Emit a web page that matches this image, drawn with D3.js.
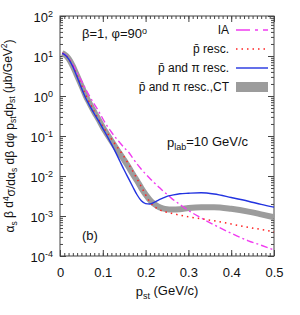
<!DOCTYPE html>
<html>
<head>
<meta charset="utf-8">
<script src="https://cdn.jsdelivr.net/npm/d3@7"></script>
<style>
body { margin: 0; background: #fff; }
text { font-family: "Liberation Sans", Arial, Helvetica, sans-serif; fill: #111; }
.axis path { display: none; }
.axis line { stroke: #444; }
</style>
</head>
<body>
<svg id="chart" width="300" height="315"></svg>
<script>
// p_st grid (GeV/c)
var pst = [0.005, 0.01, 0.02, 0.03, 0.04, 0.05, 0.06, 0.07, 0.08, 0.09, 0.10, 0.11, 0.12, 0.13, 0.14,
    0.15, 0.16, 0.17, 0.18, 0.19, 0.20, 0.21, 0.22, 0.23, 0.24, 0.25, 0.26, 0.28, 0.30, 0.33, 0.36,
    0.40, 0.44, 0.47, 0.50];

// IA
var ia = [11.7, 11.2, 8.9, 6.0, 3.8, 2.4, 1.48, 0.95, 0.63, 0.42, 0.27, 0.18, 0.126, 0.091, 0.068,
    0.051, 0.040, 0.028, 0.020, 0.0148, 0.0112, 0.0087, 0.0068, 0.0054, 0.0043, 0.0035, 0.0028, 0.00195,
    0.00138, 0.00089, 0.0006, 0.00037, 0.00024, 0.000186, 0.000141];

// pbar resc.
var pbarResc = [11.7, 11.1, 8.7, 5.6, 3.3, 1.86, 1.05, 0.65, 0.41, 0.26, 0.174, 0.120, 0.085, 0.060, 0.043,
    0.030, 0.020, 0.0132, 0.0085, 0.0054, 0.0034, 0.00224, 0.00174, 0.00148, 0.00132, 0.00124, 0.00117, 0.00105,
    0.00095, 0.00085, 0.00076, 0.00063, 0.00052, 0.00046, 0.0004];

// pbar and pi resc.
var pbarPiResc = [11.7, 11.0, 8.5, 5.4, 3.0, 1.58, 0.89, 0.56, 0.36, 0.24, 0.155, 0.100, 0.063, 0.039, 0.0234,
    0.0141, 0.0087, 0.0054, 0.0034, 0.0024, 0.00204, 0.0020, 0.00219, 0.0025, 0.00279, 0.0031, 0.00327, 0.0036,
    0.0037, 0.0038, 0.00355, 0.0029, 0.00234, 0.00195, 0.00166];

// pbar and pi resc., CT
var pbarPiCT = [11.7, 11.1, 8.7, 5.6, 3.2, 1.82, 1.02, 0.63, 0.40, 0.26, 0.166, 0.112, 0.076, 0.052, 0.036,
    0.025, 0.017, 0.0112, 0.0076, 0.0050, 0.00347, 0.0025, 0.0020, 0.0017, 0.00155, 0.00148, 0.00146, 0.00148,
    0.00158, 0.00166, 0.00166, 0.00151, 0.00129, 0.0011, 0.00093];

var xTicks = [0, 0.1, 0.2, 0.3, 0.4, 0.5];
var yExps = [-4, -3, -2, -1, 0, 1, 2];

var svg = d3.select("#chart");
var margin = {top: 16, right: 26, bottom: 59, left: 60};
var width = 300 - margin.left - margin.right;
var height = 315 - margin.top - margin.bottom;

var g = svg.append("g").attr("transform", "translate(" + margin.left + "," + margin.top + ")");

var x = d3.scaleLinear().domain([0, 0.5]).range([0, width]);
var y = d3.scaleLog().domain([1e-4, 1e2]).range([height, 0]);

// minor ticks
var xMinor = d3.range(0, 0.5001, 0.01);
var yMinor = [];
yExps.slice(0, -1).forEach(function(e) {
    for (var k = 2; k <= 9; k++) yMinor.push(k * Math.pow(10, e));
});

g.append("g").attr("class", "axis").attr("transform", "translate(0," + height + ")")
    .call(d3.axisBottom(x).tickValues(xMinor).tickSize(-3).tickFormat(""));
g.append("g").attr("class", "axis")
    .call(d3.axisTop(x).tickValues(xMinor).tickSize(-3).tickFormat(""));
g.append("g").attr("class", "axis")
    .call(d3.axisLeft(y).tickValues(yMinor).tickSize(-3).tickFormat(""));
g.append("g").attr("class", "axis").attr("transform", "translate(" + width + ",0)")
    .call(d3.axisRight(y).tickValues(yMinor).tickSize(-3).tickFormat(""));

var xAxis = g.append("g").attr("class", "axis").attr("transform", "translate(0," + height + ")")
    .call(d3.axisBottom(x).tickValues(xTicks).tickSize(-6).tickPadding(12).tickFormat(d3.format("")));
xAxis.selectAll("text").style("font-size", "13px").attr("fill", "#111");
g.append("g").attr("class", "axis")
    .call(d3.axisTop(x).tickValues(xTicks).tickSize(-6).tickFormat(""));

var yVals = yExps.map(function(e) { return Math.pow(10, e); });
var yAxis = g.append("g").attr("class", "axis")
    .call(d3.axisLeft(y).tickValues(yVals).tickSize(-6).tickFormat(""));
g.append("g").attr("class", "axis").attr("transform", "translate(" + width + ",0)")
    .call(d3.axisRight(y).tickValues(yVals).tickSize(-6).tickFormat(""));

yAxis.selectAll(".tick").each(function(d) {
    var e = Math.round(Math.log10(d));
    var t = d3.select(this).append("text")
        .attr("x", -7).attr("dy", "0.45em")
        .attr("text-anchor", "end")
        .style("font-size", "13px");
    t.append("tspan").text("10");
    t.append("tspan").attr("dy", "-0.55em").style("font-size", "9px")
        .text(e < 0 ? "-" + Math.abs(e) : e);
});

// frame
g.append("rect").attr("width", width).attr("height", height)
    .attr("fill", "none").attr("stroke", "#444").attr("stroke-width", 1);

var line = function(vals) {
    return d3.line()
        .x(function(d, i) { return x(pst[i]); })
        .y(function(d) { return y(d); })
        .curve(d3.curveMonotoneX)(vals);
};

g.append("path").attr("d", line(pbarPiCT))
    .attr("fill", "none").attr("stroke", "#9c9c9c").attr("stroke-width", 6);
g.append("path").attr("d", line(ia))
    .attr("fill", "none").attr("stroke", "#f03cf0").attr("stroke-width", 1.4)
    .attr("stroke-dasharray", "7,3,2,3");
g.append("path").attr("d", line(pbarResc))
    .attr("fill", "none").attr("stroke", "#f22").attr("stroke-width", 1.5)
    .attr("stroke-dasharray", "1.5,4");
g.append("path").attr("d", line(pbarPiResc))
    .attr("fill", "none").attr("stroke", "#2233e0").attr("stroke-width", 1.4);

// legend
var legendItems = [
    {label: "IA", type: "ia"},
    {label: "p\u0304 resc.", type: "red"},
    {label: "p\u0304 and \u03c0 resc.", type: "blue"},
    {label: "p\u0304 and \u03c0 resc.,CT", type: "ct"}
];
var lg = svg.append("g");
legendItems.forEach(function(item, i) {
    var yy = 30 + i * 19;
    lg.append("text").attr("x", 229).attr("y", yy).attr("dy", "0.35em")
        .attr("text-anchor", "end").style("font-size", "12px").text(item.label);
    if (item.type === "ia") {
        lg.append("line").attr("x1", 236).attr("x2", 268).attr("y1", yy).attr("y2", yy)
            .attr("stroke", "#f03cf0").attr("stroke-width", 1.4).attr("stroke-dasharray", "14,5,3,5");
    } else if (item.type === "red") {
        lg.append("line").attr("x1", 236).attr("x2", 268).attr("y1", yy).attr("y2", yy)
            .attr("stroke", "#f22").attr("stroke-width", 1.5).attr("stroke-dasharray", "1.5,4");
    } else if (item.type === "blue") {
        lg.append("line").attr("x1", 236).attr("x2", 268).attr("y1", yy).attr("y2", yy)
            .attr("stroke", "#2233e0").attr("stroke-width", 1.4);
    } else {
        lg.append("rect").attr("x", 236).attr("y", yy - 5).attr("width", 32).attr("height", 10)
            .attr("fill", "#9c9c9c");
    }
});

// annotations
var a1 = svg.append("text").attr("x", 82).attr("y", 38).style("font-size", "13px");
a1.append("tspan").text("\u03b2=1, \u03c6=90");
a1.append("tspan").attr("dy", "-0.5em").style("font-size", "9px").text("o");

var a2 = svg.append("text").attr("x", 167).attr("y", 147).style("font-size", "13px");
a2.append("tspan").text("p");
a2.append("tspan").attr("dy", "0.3em").style("font-size", "9px").text("lab");
a2.append("tspan").attr("dy", "-0.3em").text("=10 GeV/c");

svg.append("text").attr("x", 82).attr("y", 240).style("font-size", "13px").text("(b)");

// x label
var xl = svg.append("text").attr("x", 167).attr("y", 296).attr("text-anchor", "middle").style("font-size", "13px");
xl.append("tspan").text("p");
xl.append("tspan").attr("dy", "0.3em").style("font-size", "9px").text("st");
xl.append("tspan").attr("dy", "-0.3em").text(" (GeV/c)");

// y label
var yl = svg.append("text").attr("transform", "translate(14," + (margin.top + height / 2) + ") rotate(-90)")
    .attr("text-anchor", "middle").style("font-size", "12px");
yl.append("tspan").text("\u03b1");
yl.append("tspan").attr("dy", "0.3em").style("font-size", "8.5px").text("s");
yl.append("tspan").attr("dy", "-0.3em").text(" \u03b2 d");
yl.append("tspan").attr("dy", "-0.5em").style("font-size", "8.5px").text("4");
yl.append("tspan").attr("dy", "0.5em").text("\u03c3/d\u03b1");
yl.append("tspan").attr("dy", "0.3em").style("font-size", "8.5px").text("s");
yl.append("tspan").attr("dy", "-0.3em").text(" d\u03b2 d\u03c6 p");
yl.append("tspan").attr("dy", "0.3em").style("font-size", "8.5px").text("st");
yl.append("tspan").attr("dy", "-0.3em").text("dp");
yl.append("tspan").attr("dy", "0.3em").style("font-size", "8.5px").text("st");
yl.append("tspan").attr("dy", "-0.3em").text(" (\u03bcb/GeV");
yl.append("tspan").attr("dy", "-0.5em").style("font-size", "8.5px").text("2");
yl.append("tspan").attr("dy", "0.5em").text(")");
</script>
</body>
</html>
